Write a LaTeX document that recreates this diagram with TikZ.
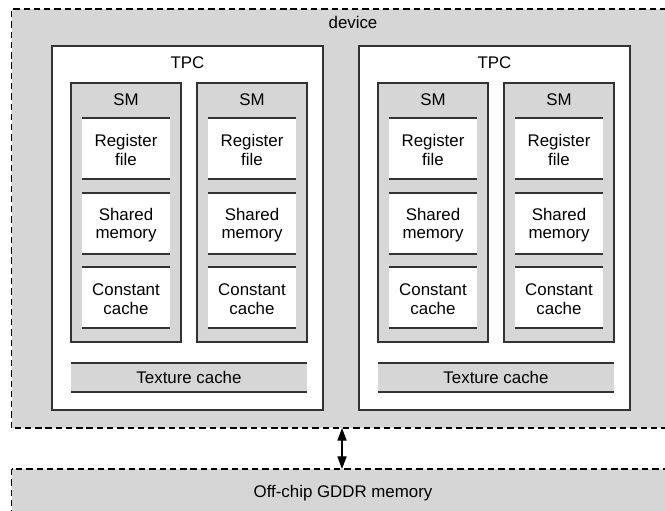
\documentclass[tikz,border=0pt]{standalone}
\usepackage{fontspec}
\setmainfont{Liberation Sans}
\usetikzlibrary{arrows.meta}
\usetikzlibrary{positioning}
\definecolor{mgray}{rgb}{0.84, 0.84, 0.84}
\definecolor{mline}{rgb}{0.2, 0.2, 0.2}

\begin{document}
\begin{tikzpicture}[
    txt/.style={font=\fontsize{12}{13.4}\selectfont, align=center, inner sep=0pt},
    box/.style={draw=mline, line width=0.9pt},
    outer/.style={draw=black, line width=0.8pt, dash pattern=on 4.5pt off 2.8pt, fill=mgray}
  ]
      \useasboundingbox (0, 0) rectangle (16.625, 12.75);
      \clip (0, 0) rectangle (16.625, 12.75);

      % device and memory
      \draw [outer] (0.29, 2.05) rectangle (17, 12.525);
      \draw [outer] (0.29, 1.025) rectangle (17, -1);
      \node [txt] (dev) at (8.825, 12.2) {device};
      \node [txt] (mem) at (8.575, 0.425) {Off-chip GDDR memory};

      \foreach \t/\dx in {1/0, 2/7.675} {
        \begin{scope}[xshift=\dx cm]
          \draw [box, fill=white] (1.3, 2.5) rectangle (8.075, 11.6);
          \node [txt] (tpc\t) at (4.6875, 11.175) {TPC};

          % texture cache
          \fill [mgray] (1.775, 2.95) rectangle (7.675, 3.675);
          \draw [box] (1.775, 2.95) -- (7.675, 2.95) (1.775, 3.675) -- (7.675, 3.675);
          \node [txt] (tex\t) at (4.725, 3.3125) {Texture cache};

          \foreach \s/\sx in {1/0, 2/3.15} {
            \begin{scope}[xshift=\sx cm]
              \draw [box, fill=mgray] (1.775, 4.2) rectangle (4.525, 10.675);
              \node [txt] (sm\t\s) at (3.15, 10.25) {SM};
              \foreach \m/\y/\name in {reg/8.275/{Register\\file}, shm/6.4/{Shared\\memory}, cst/4.55/{Constant\\cache}} {
                \fill [white] (2.05, \y) rectangle (4.25, \y + 1.525);
                \draw [box] (2.05, \y) -- (4.25, \y) (2.05, \y + 1.525) -- (4.25, \y + 1.525);
                \node [txt] (\m\t\s) at (3.15, \y + 0.72) {\name};
              }
            \end{scope}
          }
        \end{scope}
      }

      \coordinate (devbot) at (8.55, 2.05);
      \coordinate (memtop) at (8.55, 1.025);
      \draw [line width=0.9pt, {Triangle[length=9pt, width=6.5pt]}-{Triangle[length=9pt, width=6.5pt]}] (devbot) -- (memtop);
\end{tikzpicture}
\end{document}
